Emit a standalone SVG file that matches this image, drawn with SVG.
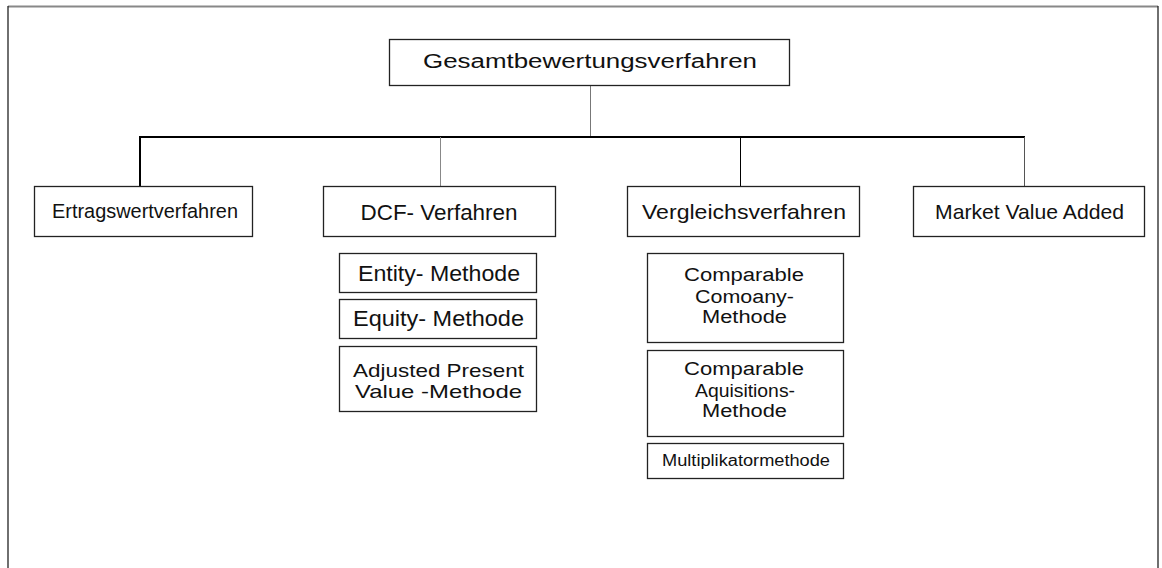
<svg xmlns="http://www.w3.org/2000/svg" width="1162" height="568" viewBox="0 0 1162 568">
<style>
.box{fill:#fff;stroke:#222;stroke-width:1.3}
.t{font-family:"Liberation Sans",Arial,sans-serif;fill:#111;text-anchor:middle}
</style>
<rect width="1162" height="568" fill="#fff"/>
<g id="frame">
<line x1="8" y1="6.5" x2="1158" y2="6.5" stroke="#888" stroke-width="2"/>
<line x1="8" y1="6" x2="8" y2="568" stroke="#222" stroke-width="1.3"/>
<line x1="1158" y1="6" x2="1158" y2="568" stroke="#222" stroke-width="1.3"/>
</g>
<g id="connectors" fill="none">
<line x1="590.5" y1="85" x2="590.5" y2="137" stroke="#777" stroke-width="1"/>
<line x1="139" y1="137" x2="1025" y2="137" stroke="#000" stroke-width="2"/>
<line x1="140" y1="136" x2="140" y2="186" stroke="#000" stroke-width="2"/>
<line x1="440.5" y1="137" x2="440.5" y2="186" stroke="#888" stroke-width="1"/>
<line x1="740.5" y1="137" x2="740.5" y2="186" stroke="#000" stroke-width="1"/>
<line x1="1024.5" y1="137" x2="1024.5" y2="186" stroke="#555" stroke-width="1"/>
</g>
<g id="gesamt">
<rect class="box" x="389.5" y="39.5" width="400" height="46"/>
<text class="t" x="590" y="68" font-size="20" textLength="334" lengthAdjust="spacingAndGlyphs">Gesamtbewertungsverfahren</text>
</g>
<g id="ertrag">
<rect class="box" x="34.5" y="186.5" width="218" height="50"/>
<text class="t" x="145" y="218" font-size="20.5" textLength="186" lengthAdjust="spacingAndGlyphs">Ertragswertverfahren</text>
</g>
<g id="dcf">
<rect class="box" x="323.5" y="186.5" width="232" height="50"/>
<text class="t" x="439" y="220" font-size="22" textLength="157" lengthAdjust="spacingAndGlyphs">DCF- Verfahren</text>
</g>
<g id="vergleich">
<rect class="box" x="627.5" y="186.5" width="232" height="50"/>
<text class="t" x="744" y="219" font-size="21" textLength="204" lengthAdjust="spacingAndGlyphs">Vergleichsverfahren</text>
</g>
<g id="mva">
<rect class="box" x="913.5" y="186.5" width="231" height="50"/>
<text class="t" x="1029.5" y="219" font-size="21" textLength="189" lengthAdjust="spacingAndGlyphs">Market Value Added</text>
</g>
<g id="entity">
<rect class="box" x="339.5" y="253.5" width="197" height="39"/>
<text class="t" x="439" y="281" font-size="22" textLength="162" lengthAdjust="spacingAndGlyphs">Entity- Methode</text>
</g>
<g id="equity">
<rect class="box" x="339.5" y="299.5" width="197" height="39"/>
<text class="t" x="438.5" y="326" font-size="22" textLength="171" lengthAdjust="spacingAndGlyphs">Equity- Methode</text>
</g>
<g id="apv">
<rect class="box" x="339.5" y="346.5" width="197" height="65"/>
<text class="t" x="438.5" y="377" font-size="19" textLength="171" lengthAdjust="spacingAndGlyphs">Adjusted Present</text>
<text class="t" x="438.5" y="398" font-size="19" textLength="167" lengthAdjust="spacingAndGlyphs">Value -Methode</text>
</g>
<g id="ccm">
<rect class="box" x="647.5" y="253.5" width="196" height="89"/>
<text class="t" x="744" y="281" font-size="18" textLength="120" lengthAdjust="spacingAndGlyphs">Comparable</text>
<text class="t" x="744.5" y="303" font-size="18" textLength="99" lengthAdjust="spacingAndGlyphs">Comoany-</text>
<text class="t" x="744.5" y="323" font-size="18" textLength="85" lengthAdjust="spacingAndGlyphs">Methode</text>
</g>
<g id="cam">
<rect class="box" x="647.5" y="350.5" width="196" height="86"/>
<text class="t" x="744" y="375" font-size="18" textLength="120" lengthAdjust="spacingAndGlyphs">Comparable</text>
<text class="t" x="745" y="397" font-size="18" textLength="100" lengthAdjust="spacingAndGlyphs">Aquisitions-</text>
<text class="t" x="744.5" y="417" font-size="18" textLength="85" lengthAdjust="spacingAndGlyphs">Methode</text>
</g>
<g id="multi">
<rect class="box" x="647.5" y="443.5" width="196" height="35"/>
<text class="t" x="746" y="466" font-size="16" textLength="168" lengthAdjust="spacingAndGlyphs">Multiplikatormethode</text>
</g>
</svg>
